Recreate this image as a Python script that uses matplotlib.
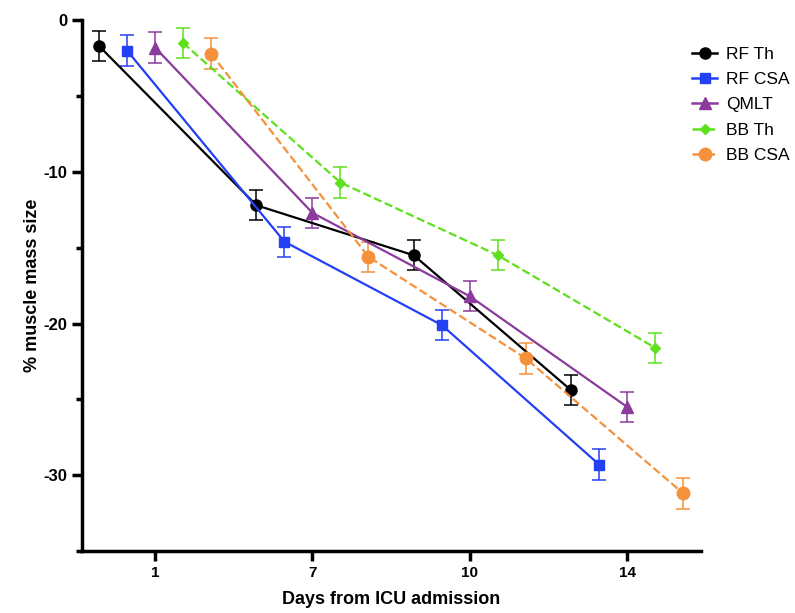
import matplotlib.pyplot as plt
from matplotlib.lines import Line2D
from matplotlib.ticker import MultipleLocator

# data
days = ["1", "7", "10", "14"]
series = ["RF Th", "RF CSA", "QMLT", "BB Th", "BB CSA"]
rf_th = [-1.7, -12.2, -15.5, -24.4]
rf_csa = [-2.0, -14.6, -20.1, -29.3]
qmlt = [-1.8, -12.7, -18.2, -25.5]
bb_th = [-1.5, -10.7, -15.5, -21.6]
bb_csa = [-2.2, -15.6, -22.3, -31.2]
err = [1.0, 1.0, 1.0, 1.0]

values = [rf_th, rf_csa, qmlt, bb_th, bb_csa]
colors = ["#000000", "#2340f5", "#8b3b9c", "#5fe01c", "#f5913a"]
markers = ["o", "s", "^", "D", "o"]
msizes = [8, 7, 8, 5, 9]
styles = ["-", "-", "-", "--", "--"]

plt.rcParams["font.family"] = ["Liberation Sans", "DejaVu Sans"]
plt.rcParams["axes.unicode_minus"] = False

fig = plt.figure(figsize=(7.95, 6.13), dpi=100)
ax = fig.add_axes([0.103, 0.101, 0.779, 0.866])

offset = 0.178
handles = []
for i, (name, vals) in enumerate(zip(series, values)):
    xs = [k + (i - 2) * offset for k in range(len(days))]
    ax.errorbar(xs, vals, yerr=err, color=colors[i], marker=markers[i],
                markersize=msizes[i], linestyle=styles[i], linewidth=1.6,
                elinewidth=1.1, ecolor=colors[i], capsize=5, capthick=1.1)
    handles.append(Line2D([], [], color=colors[i], marker=markers[i],
                          markersize=msizes[i], linestyle=styles[i],
                          linewidth=1.8, label=name))

ax.set_xlim(-0.465, 3.47)
ax.set_ylim(-35, 0)
ax.set_xticks(range(len(days)))
ax.set_xticklabels(days, fontweight="bold", fontsize=11)
ax.yaxis.set_major_locator(MultipleLocator(10))
ax.yaxis.set_minor_locator(MultipleLocator(5))
for lab in ax.get_yticklabels():
    lab.set_fontweight("bold")
    lab.set_fontsize(12)

for s in ["top", "right"]:
    ax.spines[s].set_visible(False)
for s in ["left", "bottom"]:
    ax.spines[s].set_linewidth(2.5)
ax.tick_params(axis="both", which="major", width=2.5, length=7)
ax.tick_params(axis="y", which="minor", width=2.5, length=4)

ax.set_xlabel("Days from ICU admission", fontweight="bold", fontsize=13, labelpad=8)
ax.set_ylabel("% muscle mass size", fontweight="bold", fontsize=13, labelpad=2)

fig.legend(handles=handles, loc="upper left", bbox_to_anchor=(0.864, 0.932),
           frameon=False, fontsize=12.5, handlelength=1.45, handletextpad=0.5,
           labelspacing=0.58, borderaxespad=0, borderpad=0.3)

fig.savefig("out.png", dpi=100)
